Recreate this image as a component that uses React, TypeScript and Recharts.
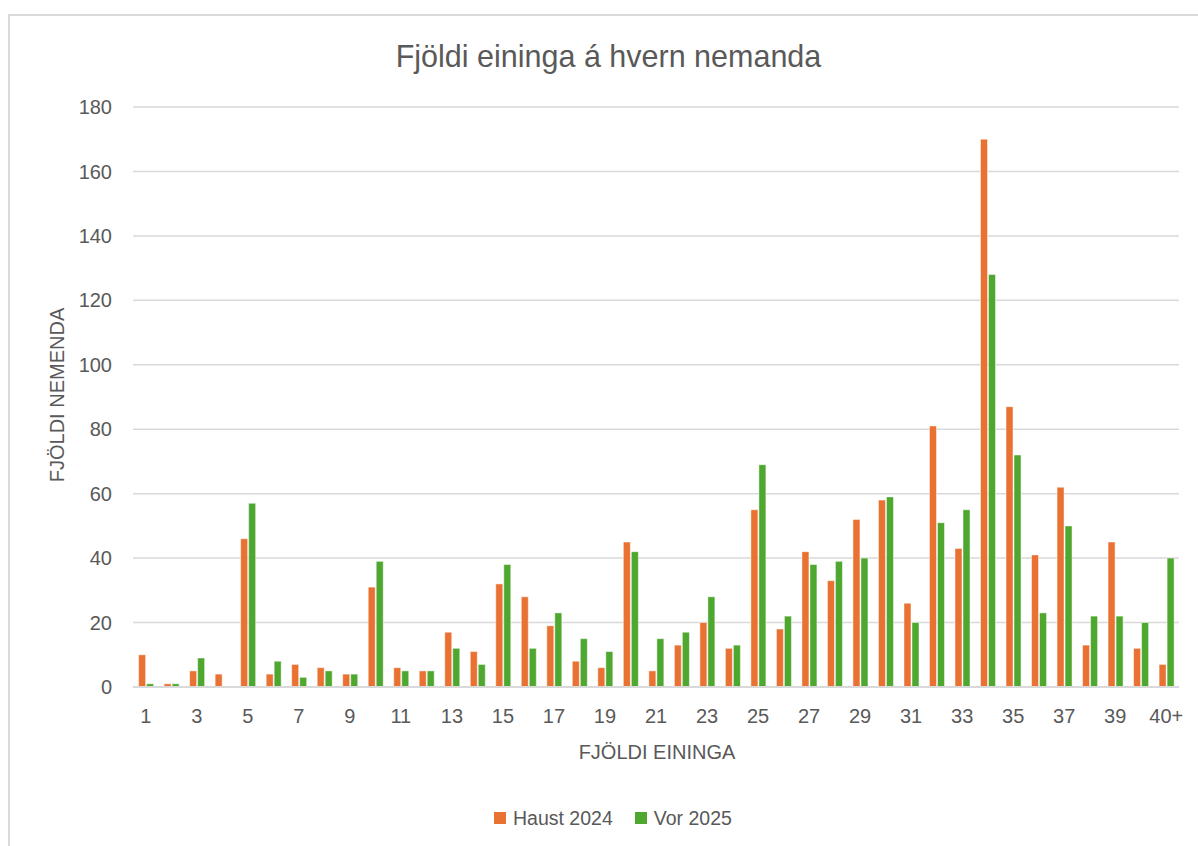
import React from 'react';
import { BarChart, Bar, XAxis, YAxis, CartesianGrid } from 'recharts';

const categories: string[] = [
  '1', '2', '3', '4', '5', '6', '7', '8', '9', '10',
  '11', '12', '13', '14', '15', '16', '17', '18', '19', '20',
  '21', '22', '23', '24', '25', '26', '27', '28', '29', '30',
  '31', '32', '33', '34', '35', '36', '37', '38', '39', '40', '40+',
];

const haust2024: number[] = [
  10, 1, 5, 4, 46, 4, 7, 6, 4, 31,
  6, 5, 17, 11, 32, 28, 19, 8, 6, 45,
  5, 13, 20, 12, 55, 18, 42, 33, 52, 58,
  26, 81, 43, 170, 87, 41, 62, 13, 45, 12, 7,
];

const vor2025: number[] = [
  1, 1, 9, 0, 57, 8, 3, 5, 4, 39,
  5, 5, 12, 7, 38, 12, 23, 15, 11, 42,
  15, 17, 28, 13, 69, 22, 38, 39, 40, 59,
  20, 51, 55, 128, 72, 23, 50, 22, 22, 20, 40,
];

const yTicks: number[] = [0, 20, 40, 60, 80, 100, 120, 140, 160, 180];

const seriesNames = ['Haust 2024', 'Vor 2025'];
const seriesColors = ['#E97132', '#4EA72E'];

const data = categories.map((c, i) => ({
  name: c,
  haust: haust2024[i],
  vor: vor2025[i],
}));

const FONT = '"Liberation Sans", Arial, sans-serif';
const TEXT = '#595959';

export default function App() {
  return (
    <div
      style={{
        position: 'absolute',
        left: 0,
        top: 0,
        width: 1198,
        height: 846,
        background: '#fff',
        overflow: 'hidden',
        fontFamily: FONT,
      }}
    >
      <div
        style={{
          position: 'absolute',
          left: 8,
          top: 14,
          width: 1300,
          height: 900,
          border: '2px solid #d9d9d9',
          boxSizing: 'border-box',
        }}
      />
      <div
        style={{
          position: 'absolute',
          left: 0,
          width: 1217,
          top: 41,
          textAlign: 'center',
          fontSize: 30.5,
          lineHeight: '30px',
          color: TEXT,
          whiteSpace: 'nowrap',
        }}
      >
        Fjöldi eininga á hvern nemanda
      </div>
      <div style={{ position: 'absolute', left: 0, top: 0 }}>
        <BarChart
          width={1198}
          height={846}
          data={data}
          margin={{ top: 107, right: 19, left: 73, bottom: 119 }}
          barCategoryGap="22%"
          barGap={1}
        >
          <CartesianGrid vertical={false} stroke="#d9d9d9" strokeWidth={1.5} />
          <XAxis
            dataKey="name"
            interval={1}
            tickLine={false}
            tickSize={0}
            tickMargin={22}
            axisLine={{ stroke: '#d9d9d9', strokeWidth: 2 }}
            tick={{ fill: TEXT, fontSize: 20, fontFamily: FONT }}
            height={40}
          />
          <YAxis
            domain={[0, 180]}
            ticks={yTicks}
            interval={0}
            tickLine={false}
            axisLine={false}
            tickSize={0}
            tickMargin={21}
            width={60}
            tick={{ fill: TEXT, fontSize: 20, fontFamily: FONT }}
          />
          <Bar
            dataKey="haust"
            name={seriesNames[0]}
            fill={seriesColors[0]}
            stroke="#ffffff"
            strokeOpacity={0.6}
            strokeWidth={0.8}
            isAnimationActive={false}
          />
          <Bar
            dataKey="vor"
            name={seriesNames[1]}
            fill={seriesColors[1]}
            stroke="#ffffff"
            strokeOpacity={0.6}
            strokeWidth={0.8}
            isAnimationActive={false}
          />
        </BarChart>
      </div>
      <div
        style={{
          position: 'absolute',
          left: 57,
          top: 394.5,
          transform: 'translate(-50%, -50%) rotate(-90deg)',
          fontSize: 20,
          lineHeight: '20px',
          color: TEXT,
          whiteSpace: 'nowrap',
        }}
      >
        FJÖLDI NEMENDA
      </div>
      <div
        style={{
          position: 'absolute',
          left: 457,
          width: 400,
          top: 742,
          textAlign: 'center',
          fontSize: 20,
          lineHeight: '20px',
          color: TEXT,
          whiteSpace: 'nowrap',
        }}
      >
        FJÖLDI EININGA
      </div>
      <div
        style={{
          position: 'absolute',
          left: 494,
          top: 808,
          display: 'flex',
          alignItems: 'center',
          fontSize: 19.5,
          lineHeight: '20px',
          color: TEXT,
          whiteSpace: 'nowrap',
        }}
      >
        {seriesNames.map((n, i) => (
          <div key={n} style={{ display: 'flex', alignItems: 'center', marginRight: i === 0 ? 22 : 0 }}>
            <div style={{ width: 12, height: 12, background: seriesColors[i], marginRight: 7 }} />
            <span>{n}</span>
          </div>
        ))}
      </div>
    </div>
  );
}
